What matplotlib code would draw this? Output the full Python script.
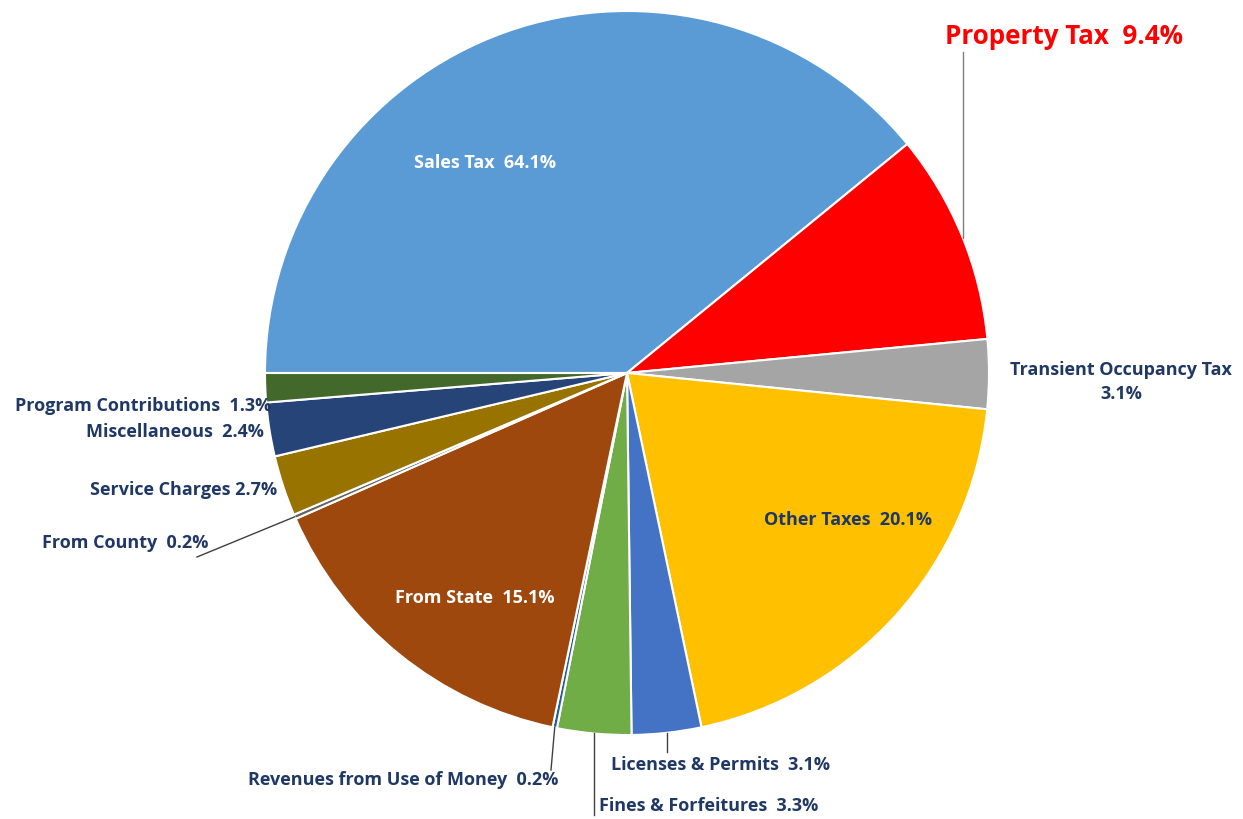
import numpy as np
import matplotlib
matplotlib.use('Agg')
import matplotlib.pyplot as plt

plt.rcParams['font.family'] = ['Open Sans', 'DejaVu Sans']

# slices, clockwise from 9 o'clock
categories = ['Sales Tax', 'Property Tax', 'Transient Occupancy Tax', 'Other Taxes',
              'Licenses & Permits', 'Fines & Forfeitures', 'Revenues from Use of Money',
              'From State', 'From County', 'Service Charges', 'Miscellaneous',
              'Program Contributions']
# slice sizes as drawn (the Sales Tax wedge is ~39% of the circle)
sizes = [39.1, 9.4, 3.1, 20.1, 3.1, 3.3, 0.2, 15.1, 0.2, 2.7, 2.4, 1.3]
# percentages as printed on the chart
pct_labels = ['64.1%', '9.4%', '3.1%', '20.1%', '3.1%', '3.3%', '0.2%',
              '15.1%', '0.2%', '2.7%', '2.4%', '1.3%']
colors = ['#5B9BD5', '#FF0000', '#A5A5A5', '#FFC000', '#4472C4', '#70AD47',
          '#255E91', '#9E480E', '#636363', '#997300', '#264478', '#43682B']

W, H = 1243, 819
navy = '#1F3864'
cx, cy, R = 627, H - 373, 362
FS = 13

fig = plt.figure(figsize=(W / 100, H / 100), dpi=100)
ax = fig.add_axes([0, 0, 1, 1])
wedges, _ = ax.pie(sizes, colors=colors, startangle=180, counterclock=False,
                   center=(cx, cy), radius=R,
                   wedgeprops=dict(edgecolor='white', linewidth=1.5))
ax.set_xlim(0, W)
ax.set_ylim(0, H)
ax.set_aspect('equal')
ax.axis('off')


def edge_pt(i, frac=1.0):
    w = wedges[i]
    a = np.deg2rad((w.theta1 + w.theta2) / 2)
    return cx + R * frac * np.cos(a), cy + R * frac * np.sin(a)


def lbl(i, x, y, color=navy, ha='center', size=FS, sep='  '):
    ax.text(x, H - y, categories[i] + sep + pct_labels[i], color=color, ha=ha,
            va='center', fontsize=size, fontweight='bold')


# inside labels
lbl(0, 485, 163, color='white')
lbl(7, 475, 598, color='white')
lbl(3, 848, 520)

# property tax
ax.text(1064, H - 37, categories[1] + '  ' + pct_labels[1], color='#FF0000',
        ha='center', va='center', fontsize=18.7, fontweight='bold')
x0 = 963
ax.plot([x0, x0], [H - 52, cy + np.sqrt(R**2 - (x0 - cx)**2)], color='#7F7F7F', lw=1)

# transient occupancy
ax.text(1121, H - 382, categories[2] + '\n' + pct_labels[2], color=navy, ha='center',
        va='center', fontsize=FS, fontweight='bold', linespacing=1.4)

# bottom labels with leaders
px, py = edge_pt(4)
ax.plot([px, px], [py, H - 752], color='#404040', lw=1)
lbl(4, 721, 765)
px, py = edge_pt(5)
ax.plot([px, px], [py, H - 815], color='#404040', lw=1)
lbl(5, 599, 806, ha='left')
px, py = edge_pt(6)
ax.plot([px, 551], [py, H - 770], color='#404040', lw=1)
lbl(6, 558, 780, ha='right')

# left side
px, py = edge_pt(8)
ax.plot([px, 197], [py, H - 557], color='#404040', lw=1)
lbl(8, 208, 543, ha='right')
lbl(9, 277, 490, ha='right', sep=' ')
lbl(10, 264, 432, ha='right')
lbl(11, 271, 406, ha='right')

fig.savefig('out.png', dpi=100, facecolor='white')
